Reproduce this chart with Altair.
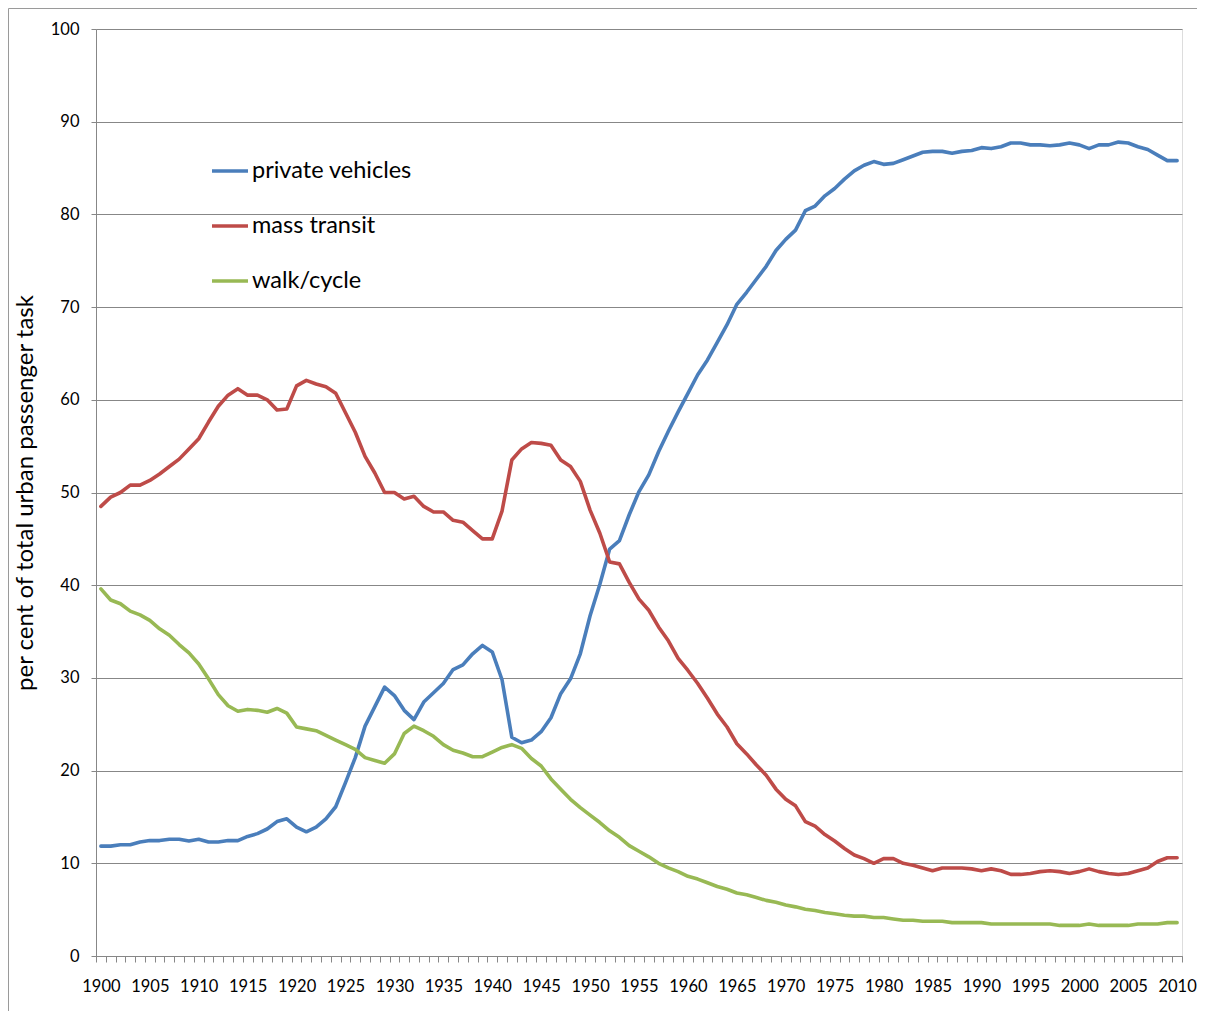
import altair as alt
import pandas as pd

years = list(range(1900, 2011))

private_vehicles = [
    11.85, 11.85, 12.0, 12.0, 12.3, 12.45, 12.45, 12.6, 12.6, 12.4,
    12.6, 12.3, 12.3, 12.45, 12.45, 12.9, 13.2, 13.7, 14.5, 14.8,
    13.9, 13.4, 13.9, 14.8, 16.1, 18.7, 21.4, 24.8, 26.9, 29.0,
    28.1, 26.5, 25.5, 27.4, 28.4, 29.4, 30.9, 31.4, 32.6, 33.5,
    32.8, 29.8, 23.6, 23.0, 23.3, 24.2, 25.7, 28.3, 29.9, 32.6,
    36.7, 40.1, 43.9, 44.8, 47.6, 50.1, 51.9, 54.4, 56.6, 58.7,
    60.7, 62.7, 64.3, 66.2, 68.1, 70.3, 71.6, 73.0, 74.4, 76.1,
    77.3, 78.3, 80.4, 80.9, 82.0, 82.8, 83.8, 84.7, 85.3, 85.7,
    85.4, 85.5, 85.9, 86.3, 86.7, 86.8, 86.8, 86.6, 86.8, 86.9,
    87.2, 87.1, 87.3, 87.7, 87.7, 87.5, 87.5, 87.4, 87.5, 87.7,
    87.5, 87.1, 87.5, 87.5, 87.8, 87.7, 87.3, 87.0, 86.4, 85.8,
    85.8,
]

mass_transit = [
    48.5, 49.5, 50.0, 50.8, 50.8, 51.3, 52.0, 52.8, 53.6, 54.7,
    55.8, 57.6, 59.3, 60.5, 61.2, 60.5, 60.5, 60.0, 58.9, 59.0,
    61.5, 62.1, 61.7, 61.4, 60.7, 58.6, 56.5, 53.9, 52.1, 50.0,
    50.0, 49.3, 49.6, 48.5, 47.9, 47.9, 47.0, 46.8, 45.9, 45.0,
    45.0, 48.0, 53.5, 54.7, 55.4, 55.3, 55.1, 53.5, 52.8, 51.2,
    48.1, 45.6, 42.5, 42.3, 40.3, 38.5, 37.3, 35.5, 34.0, 32.1,
    30.8, 29.4, 27.8, 26.1, 24.7, 22.9, 21.8, 20.6, 19.5, 18.0,
    16.9, 16.2, 14.5, 14.0, 13.1, 12.4, 11.6, 10.9, 10.5, 10.0,
    10.5, 10.5, 10.0, 9.8, 9.5, 9.2, 9.5, 9.5, 9.5, 9.4,
    9.2, 9.4, 9.2, 8.8, 8.8, 8.9, 9.1, 9.2, 9.1, 8.9,
    9.1, 9.4, 9.1, 8.9, 8.8, 8.9, 9.2, 9.5, 10.2, 10.6,
    10.6,
]

walk_cycle = [
    39.6, 38.4, 38.0, 37.2, 36.8, 36.2, 35.3, 34.6, 33.6, 32.7,
    31.5, 29.9, 28.2, 27.0, 26.4, 26.6, 26.5, 26.3, 26.7, 26.2,
    24.7, 24.5, 24.3, 23.8, 23.3, 22.8, 22.3, 21.4, 21.1, 20.8,
    21.8, 24.0, 24.8, 24.3, 23.7, 22.8, 22.2, 21.9, 21.5, 21.5,
    22.0, 22.5, 22.8, 22.4, 21.3, 20.5, 19.1, 18.0, 16.9, 16.0,
    15.2, 14.4, 13.5, 12.8, 11.9, 11.3, 10.7, 10.0, 9.5, 9.1,
    8.6, 8.3, 7.9, 7.5, 7.2, 6.8, 6.6, 6.3, 6.0, 5.8,
    5.5, 5.3, 5.05, 4.9, 4.7, 4.55, 4.4, 4.3, 4.3, 4.15,
    4.15, 4.0, 3.85, 3.85, 3.75, 3.75, 3.75, 3.6, 3.6, 3.6,
    3.6, 3.45, 3.45, 3.45, 3.45, 3.45, 3.45, 3.45, 3.3, 3.3,
    3.3, 3.45, 3.3, 3.3, 3.3, 3.3, 3.45, 3.45, 3.45, 3.6,
    3.6,
]

series_names = ["private vehicles", "mass transit", "walk/cycle"]
series_colors = ["#4A7EBB", "#BE4B48", "#98B954"]
y_ticks = list(range(0, 101, 10))

rows = []
for name, vals in zip(series_names, [private_vehicles, mass_transit, walk_cycle]):
    for yr, v in zip(years, vals):
        rows.append({"year": yr, "value": v, "mode": name})
df = pd.DataFrame(rows)

FONT = "Lato"
GRID = "#878787"
W, H = 1086, 927

boundaries = [y - 0.5 for y in years] + [years[-1] + 0.5]

lines = alt.Chart(df).mark_line(strokeWidth=3.6, strokeJoin="round", strokeCap="round").encode(
    x=alt.X(
        "year:Q",
        scale=alt.Scale(domain=[1899.5, 2010.5], nice=False, zero=False),
        axis=alt.Axis(
            values=boundaries,
            labelExpr="(datum.value + 0.5) % 5 == 0 ? format(datum.value + 0.5, 'd') : ''",
            labelOffset=4.9,
            labelOverlap=False,
            labelBound=False,
            labelFlush=False,
            grid=False,
            tickSize=6,
            tickColor=GRID,
            domainColor=GRID,
            labelFont=FONT,
            labelFontSize=16.5,
            labelColor="#000000",
            labelPadding=16,
            title=None,
        ),
    ),
    y=alt.Y(
        "value:Q",
        scale=alt.Scale(domain=[0, 100], nice=False),
        axis=alt.Axis(
            values=y_ticks,
            grid=True,
            gridColor=GRID,
            gridWidth=1,
            tickSize=5,
            tickColor=GRID,
            domainColor=GRID,
            labelFont=FONT,
            labelFontSize=16.5,
            labelColor="#000000",
            labelPadding=12,
            title="per cent of total urban passenger task",
            titleFont=FONT,
            titleFontSize=24,
            titleFontWeight="normal",
            titleColor="#000000",
            titleX=-71,
            titleY=H / 2,
            titleAngle=270,
            titleBaseline="middle",
            titleAlign="center",
        ),
    ),
    color=alt.Color(
        "mode:N",
        scale=alt.Scale(domain=series_names, range=series_colors),
        legend=alt.Legend(
            orient="none",
            legendX=114,
            legendY=122,
            title=None,
            symbolType="stroke",
            symbolSize=1296,
            symbolStrokeWidth=3.6,
            labelFont=FONT,
            labelFontSize=23.5,
            labelColor="#000000",
            labelOffset=2,
            rowPadding=23,
            padding=0,
        ),
    ),
)

border_left = alt.Chart(pd.DataFrame({"k": [0]})).mark_rule(color="#9a9a9a", strokeWidth=1).encode(
    x=alt.value(-87.5), y=alt.value(-20.5), y2=alt.value(H + 60)
)
border_top = alt.Chart(pd.DataFrame({"k": [0]})).mark_rule(color="#9a9a9a", strokeWidth=1).encode(
    x=alt.value(-87.5), x2=alt.value(W + 30), y=alt.value(-20.5)
)

chart = alt.layer(lines, border_left, border_top).properties(
    width=W,
    height=H,
    autosize=alt.AutoSizeParams(type="none"),
    padding={"left": 88, "top": 21, "right": 15, "bottom": 55},
).configure_view(stroke=None).configure(background="white")

chart.save("out.html", embed_options={"renderer": "svg", "actions": False})
